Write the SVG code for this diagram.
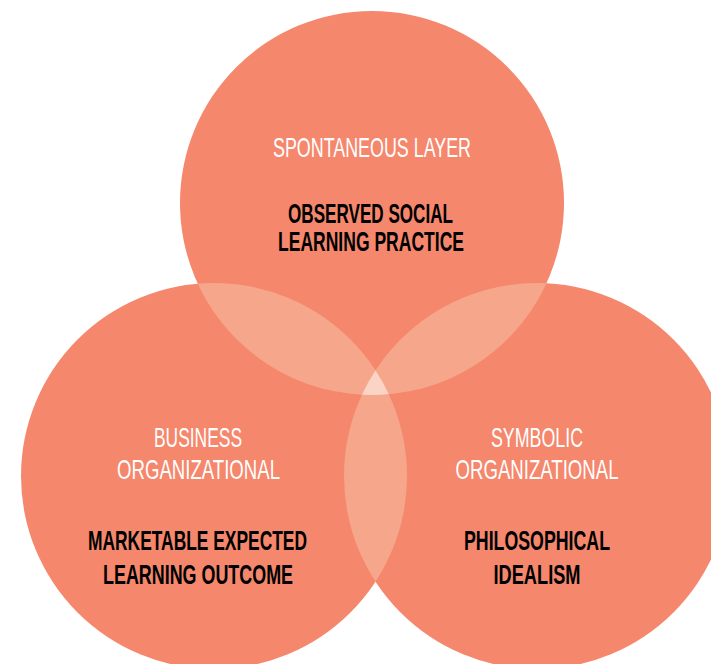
<svg xmlns="http://www.w3.org/2000/svg" width="711" height="664" viewBox="0 0 711 664">
<style>
.c{fill:#F5876D}
.lens{fill:#F6A68B}
.tri{fill:#FAD4C4}
.t{font-family:"Liberation Sans","DejaVu Sans",sans-serif;font-size:28px;text-anchor:middle}
.w{fill:#FFFFFF}
.b{fill:#000000;font-weight:bold}
</style>
<defs>
<clipPath id="cTop"><circle cx="372" cy="203" r="192"/></clipPath>
<clipPath id="cLeft"><circle cx="214" cy="476" r="193"/></clipPath>
</defs>
<rect width="711" height="664" fill="#FFFFFF"/>
<g id="top-circle"><circle class="c" cx="372" cy="203" r="192"/></g>
<g id="left-circle"><circle class="c" cx="214" cy="476" r="193"/></g>
<g id="right-circle"><circle class="c" cx="537" cy="476" r="193"/></g>
<g id="overlaps">
<circle class="lens" cx="214" cy="476" r="193" clip-path="url(#cTop)"/>
<circle class="lens" cx="537" cy="476" r="193" clip-path="url(#cTop)"/>
<circle class="lens" cx="537" cy="476" r="193" clip-path="url(#cLeft)"/>
<g clip-path="url(#cTop)"><circle class="tri" cx="537" cy="476" r="193" clip-path="url(#cLeft)"/></g>
</g>
<g id="labels">
<text class="t w" x="372" y="157" textLength="198" lengthAdjust="spacingAndGlyphs">SPONTANEOUS LAYER</text>
<text class="t b" x="370.5" y="223" textLength="165" lengthAdjust="spacingAndGlyphs">OBSERVED SOCIAL</text>
<text class="t b" x="371" y="251" textLength="186" lengthAdjust="spacingAndGlyphs">LEARNING PRACTICE</text>
<text class="t w" x="198" y="447" textLength="88" lengthAdjust="spacingAndGlyphs">BUSINESS</text>
<text class="t w" x="198.5" y="479" textLength="163" lengthAdjust="spacingAndGlyphs">ORGANIZATIONAL</text>
<text class="t b" x="197.5" y="550" textLength="219" lengthAdjust="spacingAndGlyphs">MARKETABLE EXPECTED</text>
<text class="t b" x="198" y="584" textLength="190" lengthAdjust="spacingAndGlyphs">LEARNING OUTCOME</text>
<text class="t w" x="537" y="447" textLength="92" lengthAdjust="spacingAndGlyphs">SYMBOLIC</text>
<text class="t w" x="537" y="479" textLength="163" lengthAdjust="spacingAndGlyphs">ORGANIZATIONAL</text>
<text class="t b" x="537" y="550" textLength="146" lengthAdjust="spacingAndGlyphs">PHILOSOPHICAL</text>
<text class="t b" x="537" y="584" textLength="87" lengthAdjust="spacingAndGlyphs">IDEALISM</text>
</g>
</svg>
